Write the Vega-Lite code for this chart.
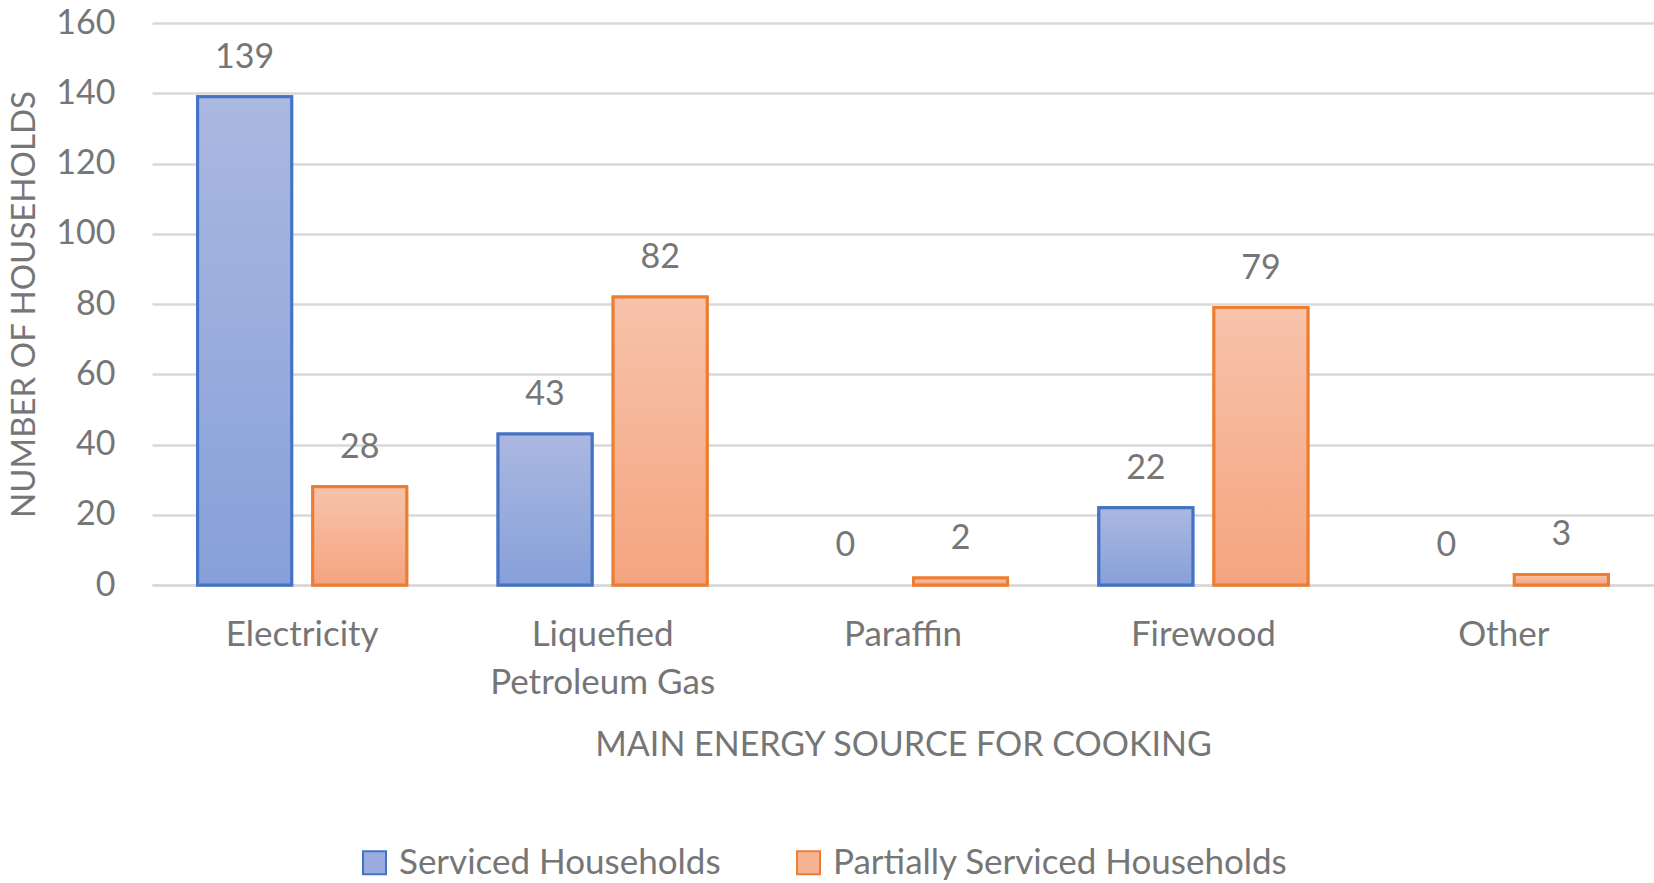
{
  "$schema": "https://vega.github.io/schema/vega-lite/v6.json",
  "width": 1502,
  "height": 562,
  "autosize": {"type": "none"},
  "padding": {"left": 152, "top": 23, "right": 0, "bottom": 298},
  "background": "white",
  "config": {
    "font": "Lato",
    "view": {"stroke": null},
    "axis": {"labelColor": "#767676", "titleColor": "#767676", "labelFont": "Lato", "titleFont": "Lato", "titleFontWeight": "normal"},
    "legend": {"labelColor": "#767676", "labelFont": "Lato"}
  },
  "data": {
    "values": [
      {"source": "Electricity", "series": "Serviced Households", "value": 139},
      {"source": "Electricity", "series": "Partially Serviced Households", "value": 28},
      {"source": "Liquefied Petroleum Gas", "series": "Serviced Households", "value": 43},
      {"source": "Liquefied Petroleum Gas", "series": "Partially Serviced Households", "value": 82},
      {"source": "Paraffin", "series": "Serviced Households", "value": 0},
      {"source": "Paraffin", "series": "Partially Serviced Households", "value": 2},
      {"source": "Firewood", "series": "Serviced Households", "value": 22},
      {"source": "Firewood", "series": "Partially Serviced Households", "value": 79},
      {"source": "Other", "series": "Serviced Households", "value": 0},
      {"source": "Other", "series": "Partially Serviced Households", "value": 3}
    ]
  },
  "encoding": {
    "x": {
      "field": "source",
      "type": "nominal",
      "sort": ["Electricity", "Liquefied Petroleum Gas", "Paraffin", "Firewood", "Other"],
      "scale": {"paddingInner": 0.304, "paddingOuter": 0.152},
      "axis": {
        "title": "MAIN ENERGY SOURCE FOR COOKING",
        "titleFontSize": 34,
        "titleY": 160,
        "titleBaseline": "middle",
        "labelAngle": 0,
        "labelFontSize": 35,
        "labelPadding": 32,
        "labelBaseline": "top",
        "labelLineHeight": 48,
        "labelLimit": 0,
        "ticks": false,
        "domainColor": "#d9d9d9",
        "domainWidth": 2.5,
        "labelExpr": "datum.value == 'Liquefied Petroleum Gas' ? ['Liquefied', 'Petroleum Gas'] : datum.value"
      }
    },
    "xOffset": {
      "field": "series",
      "type": "nominal",
      "sort": ["Serviced Households", "Partially Serviced Households"],
      "scale": {"paddingInner": 0.183, "paddingOuter": 0}
    },
    "y": {
      "field": "value",
      "type": "quantitative",
      "scale": {"domain": [0, 160]},
      "axis": {
        "title": "NUMBER OF HOUSEHOLDS",
        "titleFontSize": 33,
        "titleX": -128,
        "titleY": 281,
        "titleAngle": -90,
        "titleBaseline": "middle",
        "titleAlign": "center",
        "values": [0, 20, 40, 60, 80, 100, 120, 140, 160],
        "labelFontSize": 34,
        "labelPadding": 37,
        "ticks": false,
        "domain": false,
        "gridColor": "#d9d9d9",
        "gridWidth": 2.5
      }
    }
  },
  "layer": [
    {
      "transform": [{"filter": "datum.value > 0"}],
      "mark": {"type": "bar", "strokeWidth": 3},
      "encoding": {
        "fill": {
          "field": "series",
          "type": "nominal",
          "scale": {"domain": ["Serviced Households", "Partially Serviced Households"], "range": ["#9aabdd", "#f6b394"]},
          "legend": {
            "orient": "none", "legendX": 205, "legendY": 822, "direction": "horizontal", "title": null,
            "symbolType": "square", "symbolSize": 529, "symbolStrokeWidth": 2, "labelFontSize": 35,
            "labelOffset": 7, "columnPadding": 70, "labelLimit": 0
          }
        },
        "stroke": {
          "field": "series",
          "type": "nominal",
          "scale": {"domain": ["Serviced Households", "Partially Serviced Households"], "range": ["#4472C4", "#ED7D31"]},
          "legend": {
            "orient": "none", "legendX": 205, "legendY": 822, "direction": "horizontal", "title": null,
            "symbolType": "square", "symbolSize": 529, "symbolStrokeWidth": 2, "labelFontSize": 35,
            "labelOffset": 7, "columnPadding": 70, "labelLimit": 0
          }
        }
      }
    },
    {
      "transform": [{"filter": "datum.value > 0"}],
      "mark": {"type": "bar", "strokeWidth": 3},
      "encoding": {
        "fill": {
          "condition": {
            "test": "datum.series === 'Serviced Households'",
            "value": {"gradient": "linear", "x1": 0, "y1": 0, "x2": 0, "y2": 1, "stops": [{"offset": 0, "color": "#abb8e1"}, {"offset": 1, "color": "#87a0d9"}]}
          },
          "value": {"gradient": "linear", "x1": 0, "y1": 0, "x2": 0, "y2": 1, "stops": [{"offset": 0, "color": "#f7c3ab"}, {"offset": 1, "color": "#f5a47f"}]}
        },
        "stroke": {
          "condition": {"test": "datum.series === 'Serviced Households'", "value": "#4472C4"},
          "value": "#ED7D31"
        }
      }
    },
    {
      "mark": {"type": "text", "dy": -29, "baseline": "alphabetic", "fontSize": 34, "color": "#767676"},
      "encoding": {
        "text": {"field": "value", "type": "quantitative"}
      }
    }
  ]
}
